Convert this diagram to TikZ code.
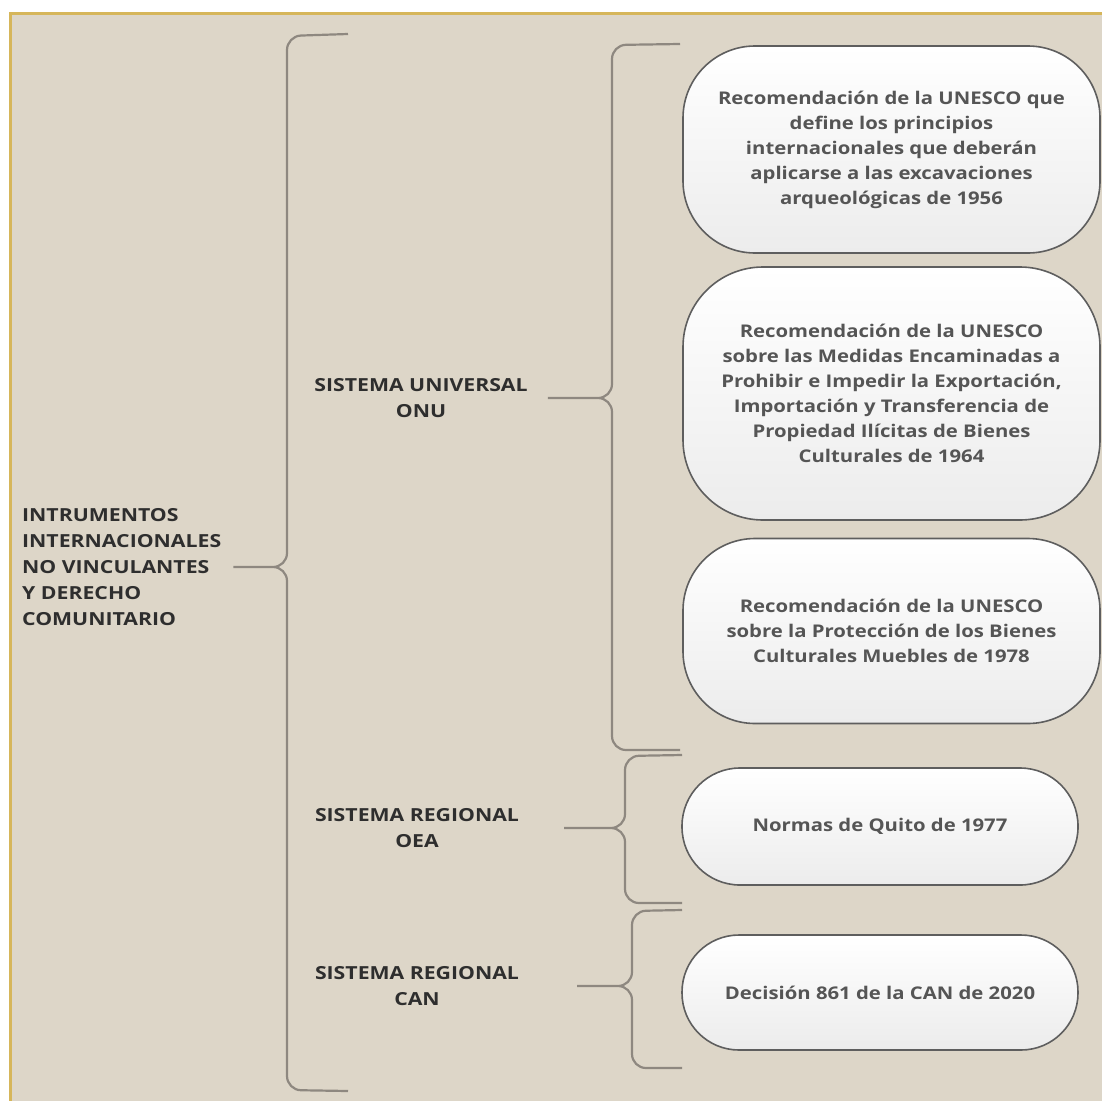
\documentclass[tikz,border=0pt]{standalone}
\usepackage{fontspec}
\setmainfont{Open Sans}
\newfontfamily\boxfont{Open Sans}[FakeStretch=1.16]
\newfontfamily\labelfont{Open Sans}[FakeStretch=1.18]
\definecolor{paper}{HTML}{DDD6C8}
\definecolor{frame}{HTML}{D6B65A}
\definecolor{braceline}{HTML}{8E8880}
\definecolor{boxline}{HTML}{5E5E5E}
\definecolor{boxfill}{HTML}{ECECEC}
\definecolor{boxtext}{HTML}{555555}
\definecolor{labeltext}{HTML}{2E2E2E}
\begin{document}
\begin{tikzpicture}[x=1pt,y=-1pt,
	lbl/.style={font=\labelfont\bfseries\fontsize{18}{26}\selectfont,text=labeltext,align=center,inner sep=0pt},
	box/.style={draw=boxline,line width=1.6pt,top color=white,bottom color=boxfill,
		align=center,text=boxtext,font=\boxfont\bfseries\fontsize{17.5}{25}\selectfont},
	brace/.style={draw=braceline,line width=2.2pt,rounded corners=14pt}]
	\useasboundingbox(0,0)rectangle(1102,1100);
	\fill[white](0,0)rectangle(1102,1100);
	\filldraw[fill=paper,draw=frame,line width=3pt](10,13)rectangle(1110,1110);
	% labels
	\node[lbl,align=left,anchor=west](intr)at(22,567){INTRUMENTOS\\INTERNACIONALES\\NO VINCULANTES\\Y DERECHO\\COMUNITARIO};
	\node[lbl](onu)at(421,398){SISTEMA UNIVERSAL\\ONU};
	\node[lbl](oea)at(417,828){SISTEMA REGIONAL\\OEA};
	\node[lbl](can)at(417,986){SISTEMA REGIONAL\\CAN};
	% boxes
	\node[box,minimum width=417pt,minimum height=207pt,rounded corners=72pt](rec56)at(891.5,149.5)
		{Recomendación de la UNESCO que\\define los principios\\internacionales que deberán\\aplicarse a las excavaciones\\arqueológicas de 1956};
	\node[box,minimum width=417pt,minimum height=253pt,rounded corners=80pt](rec64)at(891.5,393.5)
		{Recomendación de la UNESCO\\sobre las Medidas Encaminadas a\\Prohibir e Impedir la Exportación,\\Importación y Transferencia de\\Propiedad Ilícitas de Bienes\\Culturales de 1964};
	\node[box,minimum width=417pt,minimum height=185pt,rounded corners=72pt](rec78)at(891.5,631)
		{Recomendación de la UNESCO\\sobre la Protección de los Bienes\\Culturales Muebles de 1978};
	\node[box,minimum width=396pt,minimum height=117pt,rounded corners=58pt](quito)at(880,826.5){Normas de Quito de 1977};
	\node[box,minimum width=396pt,minimum height=115pt,rounded corners=57pt](dec)at(880,992.5){Decisión 861 de la CAN de 2020};
	% brace ends
	\coordinate(mtop)at(348,34);\coordinate(mbot)at(348,1091);
	\coordinate(utop)at(680,44);\coordinate(ubot)at(680,750);
	\coordinate(otop)at(682,755);\coordinate(obot)at(682,903);
	\coordinate(ctop)at(682,910);\coordinate(cbot)at(682,1068);
	% braces
	\draw[brace](intr.east)++(12,0)coordinate(mtip)-|(287,36)--(mtop)
		(mtip)-|(287,1090)--(mbot);
	\draw[brace](onu.east)++(20,0)coordinate(utip)-|(612,45)--(utop)
		(utip)-|(612,750)--(ubot);
	\draw[brace](oea.east)++(45,0)coordinate(otip)-|(625,756)--(otop)
		(otip)-|(625,903)--(obot);
	\draw[brace](can.east)++(58,0)coordinate(ctip)-|(632,911)--(ctop)
		(ctip)-|(632,1068)--(cbot);
\end{tikzpicture}
\end{document}
